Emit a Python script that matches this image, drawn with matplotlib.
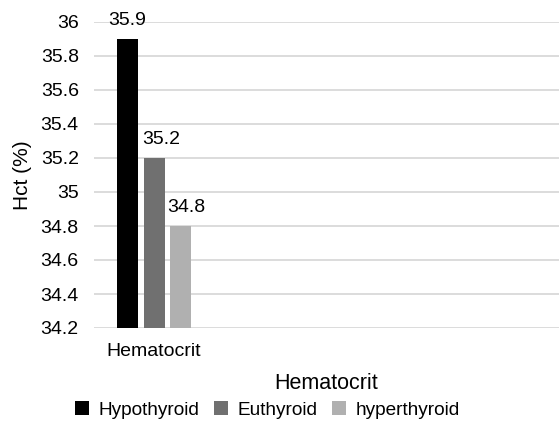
import matplotlib.pyplot as plt
import matplotlib.transforms as mtransforms
import numpy as np

plt.rcParams['font.family'] = ['Liberation Sans', 'DejaVu Sans']

category = ['Hematocrit']
groups = ['Hypothyroid', 'Euthyroid', 'hyperthyroid']
hct = [35.9, 35.2, 34.8]
colors = ['#000000', '#707070', '#b0b0b0']

fig = plt.figure(figsize=(5.59, 4.21), dpi=100)
ax = fig.add_axes([94 / 559, 1 - 328 / 421, 1 - 94 / 559, (328 - 22) / 421])

x = np.arange(len(category))
width = 0.21
step = 0.265
label_shift = [0, 5, 4]  # points, nudges the value labels off the neighbouring bar
for i, (g, v, c) in enumerate(zip(groups, hct, colors)):
    pos = x + (i - 1) * step
    ax.bar(pos, [v - 34.2], width, bottom=34.2, color=c, label=g)
    tr = mtransforms.offset_copy(ax.transData, fig=fig, x=label_shift[i], y=0, units='points')
    ax.text(pos[0], v + 0.06, f'{v:g}', ha='center', va='bottom', fontsize=14, transform=tr)

ticks = np.arange(34.2, 36.01, 0.2).round(1)
ax.set_ylim(34.2, 36)
ax.set_yticks(ticks)
ax.set_yticklabels([f'{t:g}' for t in ticks])
ax.set_xlim(-0.60, 4.05)
ax.set_xticks(x)
ax.set_xticklabels(category)
ax.tick_params(length=0, labelsize=14, colors='#000000')
ax.tick_params(axis='y', pad=11)
ax.tick_params(axis='x', pad=11)
ax.yaxis.grid(True, color='#d9d9d9', linewidth=1.3)
ax.set_axisbelow(True)
for s in ax.spines.values():
    s.set_visible(False)

ax.set_ylabel('Hct (%)', fontsize=15, labelpad=6)
ax.set_xlabel('Hematocrit', fontsize=15.5, labelpad=9)

fig.legend(loc='lower center', bbox_to_anchor=(0.478, -0.036), ncol=3, frameon=False,
           fontsize=13.7, handlelength=0.75, handleheight=0.75, handletextpad=0.5,
           columnspacing=0.75)

fig.savefig('out.png', dpi=100)
